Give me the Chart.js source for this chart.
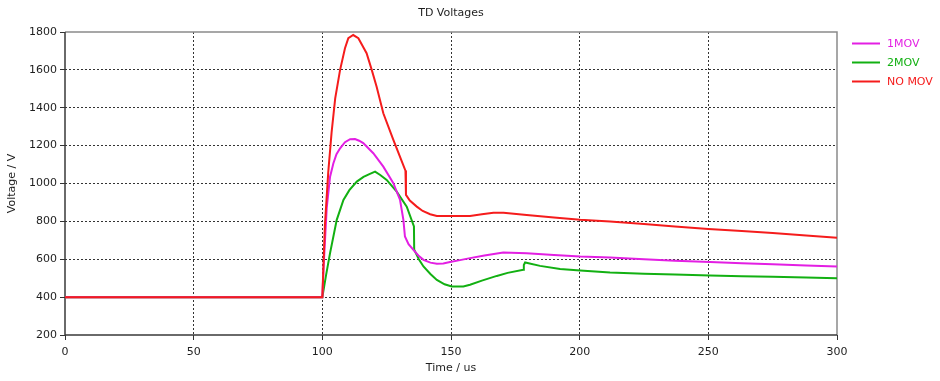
<!DOCTYPE html>
<html>
<head>
<meta charset="utf-8">
<script src="https://cdn.jsdelivr.net/npm/chart.js@4/dist/chart.umd.min.js"></script>
<style>
html,body{margin:0;padding:0;background:#fff;}
canvas{display:block;}
</style>
</head>
<body>
<canvas id="c" width="940" height="381"></canvas>
<script>
// ---- data (time in us, voltage in V) ----
const seriesNames = ["1MOV", "2MOV", "NO MOV"];
const xTicks = [0, 50, 100, 150, 200, 250, 300];
const yTicks = [200, 400, 600, 800, 1000, 1200, 1400, 1600, 1800];

const oneMovT = [0, 100, 100.5, 101.7, 103, 104.3, 105.5, 106.9, 108.8, 110.8, 112.7, 114.3, 115.9, 119.8, 123.7, 127.6, 130.2, 131.5, 132.1, 133.5, 135.4, 137.3, 139.3, 142, 144.5, 147, 149.6, 153, 157.4, 163, 170.3, 179.4, 190, 200.2, 211.8, 225, 237, 250.7, 263, 275, 288, 300];
const oneMovV = [400, 400, 560, 870, 1036, 1107, 1155, 1186, 1218, 1234, 1235, 1226, 1213, 1160, 1089, 1002, 913, 808, 720, 680, 650, 620, 597, 582, 576, 578, 585, 594, 606, 620, 635, 632, 622, 614, 609, 600, 592, 585, 579, 573, 567, 562];

const twoMovT = [0, 100, 101.5, 103, 105.6, 108.2, 110.5, 113.4, 116, 118.5, 120.5, 122.5, 125, 128.9, 132.8, 135.6, 135.7, 137.5, 139.3, 142, 144.5, 147.5, 150.3, 154.8, 157.4, 162, 167.8, 172, 178.1, 178.3, 178.8, 184.6, 192.4, 200.2, 211.8, 225, 237, 250.7, 263, 275, 288, 300];
const twoMovV = [400, 400, 520, 632, 808, 913, 965, 1010, 1035, 1051, 1063, 1045, 1019, 957, 878, 773, 650, 600, 562, 522, 491, 468, 456, 456, 465, 487, 512, 528, 544, 570, 583, 565, 548, 540, 530, 524, 519, 514, 510, 507, 503, 500];

const noMovT = [0, 100, 101, 102.3, 103.6, 105, 106.9, 108.8, 110.1, 112, 114, 115.5, 117.2, 119.2, 121.1, 123.7, 127.6, 130.5, 132.3, 132.5, 134, 136.7, 139, 141.9, 144.5, 150, 157.4, 162, 166.5, 170.4, 179.4, 190, 200.2, 211.8, 225, 237, 250, 263, 275, 288, 300];
const noMovV = [400, 400, 780, 1060, 1270, 1450, 1600, 1714, 1767, 1784, 1767, 1730, 1688, 1600, 1511, 1371, 1230, 1130, 1068, 940, 910, 878, 855, 838, 829, 829, 829, 838, 846, 846, 834, 820, 808, 799, 786, 773, 760, 749, 738, 726, 713];

const seriesColors = ["#e31fe3", "#12b012", "#f51c1c"];

function pts(t, v) { return t.map((x, i) => ({ x: x, y: v[i] })); }

const FONT = "'DejaVu Sans', Tahoma, sans-serif";
const TXT = "#1e1e1e";

const legendPlugin = {
  id: "sideLegend",
  afterDraw(chart) {
    const ctx = chart.ctx;
    const area = chart.chartArea;
    ctx.save();
    ctx.font = "11px " + FONT;
    ctx.textBaseline = "middle";
    ctx.textAlign = "left";
    chart.data.datasets.forEach((ds, i) => {
      const y = 43.5 + i * 19;
      const x0 = area.right + 15;
      ctx.strokeStyle = ds.borderColor;
      ctx.lineWidth = 2;
      ctx.beginPath();
      ctx.moveTo(x0, y);
      ctx.lineTo(x0 + 28, y);
      ctx.stroke();
      ctx.fillStyle = ds.borderColor;
      ctx.fillText(ds.label, x0 + 35, y + 0.5);
    });
    ctx.fillStyle = TXT;
    ctx.textAlign = "center";
    ctx.font = "11px " + FONT;
    ctx.fillText("TD Voltages", (area.left + area.right) / 2, 13);
    ctx.restore();
  }
};

const framePlugin = {
  id: "frame",
  beforeDatasetsDraw(chart) {
    const ctx = chart.ctx;
    const a = chart.chartArea;
    ctx.save();
    ctx.setLineDash([]);
    ctx.lineWidth = 1.5;
    ctx.strokeStyle = "#8a8a8a";
    ctx.beginPath();
    ctx.moveTo(a.left, a.top);
    ctx.lineTo(a.right, a.top);
    ctx.lineTo(a.right, a.bottom);
    ctx.stroke();
    ctx.strokeStyle = "#3a3a3a";
    ctx.beginPath();
    ctx.moveTo(a.left, a.top);
    ctx.lineTo(a.left, a.bottom);
    ctx.lineTo(a.right, a.bottom);
    ctx.stroke();
    ctx.restore();
  }
};

const dataSets = [
  { label: seriesNames[0], data: pts(oneMovT, oneMovV), borderColor: seriesColors[0], order: 1 },
  { label: seriesNames[1], data: pts(twoMovT, twoMovV), borderColor: seriesColors[1], order: 2 },
  { label: seriesNames[2], data: pts(noMovT, noMovV), borderColor: seriesColors[2], order: 0 }
].map(d => Object.assign(d, { borderWidth: 2, pointRadius: 0, tension: 0, fill: false, backgroundColor: d.borderColor }));

function gridColor(ctx, lo, hi) {
  const v = ctx.tick ? ctx.tick.value : null;
  return (v === lo || v === hi) ? "rgba(0,0,0,0)" : "#333";
}

new Chart(document.getElementById("c"), {
  type: "line",
  data: { datasets: dataSets },
  plugins: [framePlugin, legendPlugin],
  options: {
    responsive: false,
    animation: false,
    events: [],
    layout: { padding: { top: 32, right: 103, left: 0, bottom: 0 } },
    plugins: { legend: { display: false }, title: { display: false }, tooltip: { enabled: false } },
    scales: {
      x: {
        type: "linear",
        min: 0, max: 300,
        afterBuildTicks: s => { s.ticks = xTicks.map(v => ({ value: v })); },
        afterFit: s => { s.height = 46; },
        grid: { color: c => gridColor(c, 0, 300), lineWidth: 1, tickColor: "#333", tickLength: 5, tickWidth: 1 },
        border: { display: false, dash: [2, 2] },
        ticks: { color: TXT, font: { family: FONT, size: 11 }, padding: 6, maxRotation: 0, callback: v => String(v) },
        title: { display: true, text: "Time / us", color: TXT, font: { family: FONT, size: 11 }, padding: { top: 0, bottom: 6 } }
      },
      y: {
        type: "linear",
        min: 200, max: 1800,
        afterBuildTicks: s => { s.ticks = yTicks.map(v => ({ value: v })); },
        afterFit: s => { s.width = 65; },
        grid: { color: c => gridColor(c, 200, 1800), lineWidth: 1, tickColor: "#333", tickLength: 5, tickWidth: 1 },
        border: { display: false, dash: [2, 2] },
        ticks: { color: TXT, font: { family: FONT, size: 11 }, padding: 3, callback: v => String(v) },
        title: { display: true, text: "Voltage / V", color: TXT, font: { family: FONT, size: 11 }, padding: { top: 6, bottom: 0 } }
      }
    }
  }
});
</script>
</body>
</html>
